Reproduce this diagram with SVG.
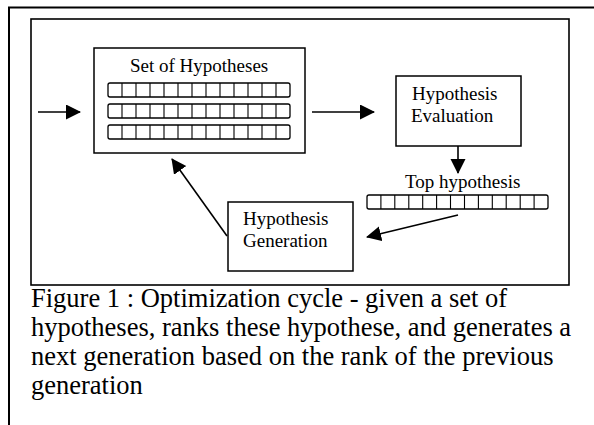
<svg xmlns="http://www.w3.org/2000/svg" width="594" height="425" viewBox="0 0 594 425">
<defs>
<style>
.frame{fill:none;stroke:#000;stroke-width:2}
.box{fill:#fff;stroke:#000;stroke-width:1.5}
.row{fill:#fff;stroke:#000;stroke-width:1.3}
.cell{fill:none;stroke:#000;stroke-width:1.1}
.lbl{font-family:"Liberation Serif","Times New Roman",serif;font-size:19px;fill:#000}
.cap{font-family:"Liberation Serif","Times New Roman",serif;font-size:26.5px;fill:#000}
.conn{fill:none;stroke:#000;stroke-width:1.6;marker-end:url(#ah)}
</style>
<marker id="ah" markerUnits="userSpaceOnUse" markerWidth="16" markerHeight="16" refX="14" refY="7.5" orient="auto">
<path d="M0,0 L15,7.5 L0,15 Z" fill="#000"/>
</marker>
</defs>
<rect width="594" height="425" fill="#fff"/>
<g id="outer-frame">
<path class="frame" d="M9,425 V7.5 H594"/>
</g>
<g id="inner-frame">
<rect class="frame" x="31" y="19" width="538" height="266" style="stroke-width:1.6"/>
</g>
<g id="connectors">
<line class="conn" x1="38" y1="112" x2="80" y2="112"/>
<line class="conn" x1="312" y1="112" x2="374" y2="112"/>
<line class="conn" x1="458" y1="146" x2="458" y2="173"/>
<line class="conn" x1="458" y1="215" x2="367" y2="237"/>
<line class="conn" x1="227" y1="236" x2="172" y2="159"/>
</g>
<g id="set-of-hypotheses">
<rect class="box" x="94" y="48" width="211" height="105"/>
<text class="lbl" x="130" y="72">Set of Hypotheses</text>
<rect class="row" x="108" y="83" width="182" height="14" rx="2"/>
<rect class="row" x="108" y="104" width="182" height="14" rx="2"/>
<rect class="row" x="108" y="125" width="182" height="14" rx="2"/>
<path class="cell" d="M122 83V97M136 83V97M150 83V97M164 83V97M178 83V97M192 83V97M206 83V97M220 83V97M234 83V97M248 83V97M262 83V97M276 83V97
M122 104V118M136 104V118M150 104V118M164 104V118M178 104V118M192 104V118M206 104V118M220 104V118M234 104V118M248 104V118M262 104V118M276 104V118
M122 125V139M136 125V139M150 125V139M164 125V139M178 125V139M192 125V139M206 125V139M220 125V139M234 125V139M248 125V139M262 125V139M276 125V139"/>
</g>
<g id="hypothesis-evaluation">
<rect class="box" x="396" y="76" width="125" height="70"/>
<text class="lbl" x="412" y="100">Hypothesis</text>
<text class="lbl" x="411" y="122">Evaluation</text>
</g>
<g id="top-hypothesis">
<text class="lbl" x="405" y="188">Top hypothesis</text>
<rect class="row" x="367" y="195" width="181" height="14" rx="2"/>
<path class="cell" d="M380.9 195V209M394.8 195V209M408.8 195V209M422.7 195V209M436.6 195V209M450.5 195V209M464.5 195V209M478.4 195V209M492.3 195V209M506.2 195V209M520.2 195V209M534.1 195V209"/>
</g>
<g id="hypothesis-generation">
<rect class="box" x="228" y="202" width="125" height="69"/>
<text class="lbl" x="243" y="225">Hypothesis</text>
<text class="lbl" x="243" y="247">Generation</text>
</g>
<g id="caption">
<text class="cap" x="31" y="307">Figure 1 : Optimization cycle - given a set of</text>
<text class="cap" x="31" y="336">hypotheses, ranks these hypothese, and generates a</text>
<text class="cap" x="31" y="365">next generation based on the rank of the previous</text>
<text class="cap" x="31" y="394">generation</text>
</g>
</svg>
